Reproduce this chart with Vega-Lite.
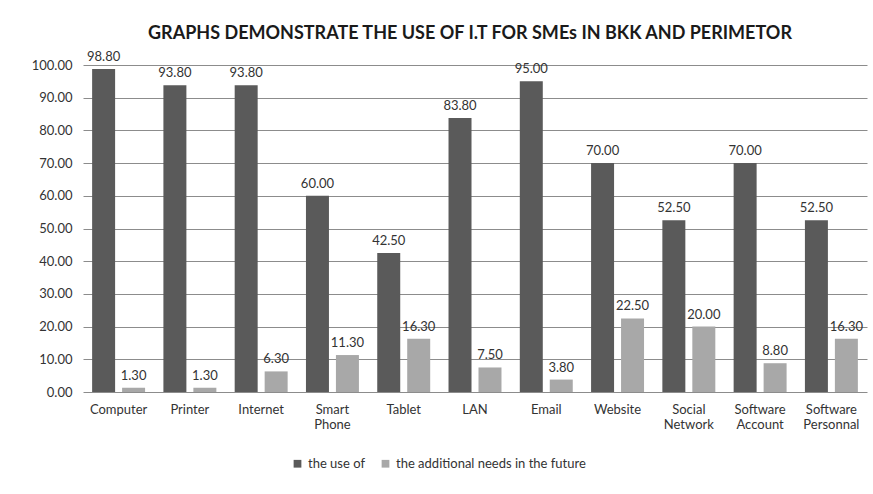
{
  "$schema": "https://vega.github.io/schema/vega-lite/v6.json",
  "autosize": "none",
  "width": 784,
  "height": 327,
  "padding": {"left": 83, "top": 65, "right": 6, "bottom": 102},
  "background": "white",
  "title": {
    "text": "GRAPHS DEMONSTRATE THE USE OF I.T FOR SMEs IN BKK AND PERIMETOR",
    "font": "Lato",
    "fontSize": 18,
    "fontWeight": "bold",
    "color": "#1a1a1a",
    "anchor": "middle",
    "offset": 8,
    "dx": -5
  },
  "data": {
    "values": [
      {"item": "Computer", "series": "the use of", "value": 98.8},
      {"item": "Computer", "series": "the additional  needs in the future", "value": 1.3},
      {"item": "Printer", "series": "the use of", "value": 93.8},
      {"item": "Printer", "series": "the additional  needs in the future", "value": 1.3},
      {"item": "Internet", "series": "the use of", "value": 93.8},
      {"item": "Internet", "series": "the additional  needs in the future", "value": 6.3},
      {"item": "Smart Phone", "series": "the use of", "value": 60.0},
      {"item": "Smart Phone", "series": "the additional  needs in the future", "value": 11.3},
      {"item": "Tablet", "series": "the use of", "value": 42.5},
      {"item": "Tablet", "series": "the additional  needs in the future", "value": 16.3},
      {"item": "LAN", "series": "the use of", "value": 83.8},
      {"item": "LAN", "series": "the additional  needs in the future", "value": 7.5},
      {"item": "Email", "series": "the use of", "value": 95.0},
      {"item": "Email", "series": "the additional  needs in the future", "value": 3.8},
      {"item": "Website", "series": "the use of", "value": 70.0},
      {"item": "Website", "series": "the additional  needs in the future", "value": 22.5},
      {"item": "Social Network", "series": "the use of", "value": 52.5},
      {"item": "Social Network", "series": "the additional  needs in the future", "value": 20.0},
      {"item": "Software Account", "series": "the use of", "value": 70.0},
      {"item": "Software Account", "series": "the additional  needs in the future", "value": 8.8},
      {"item": "Software Personnal", "series": "the use of", "value": 52.5},
      {"item": "Software Personnal", "series": "the additional  needs in the future", "value": 16.3}
    ]
  },
  "encoding": {
    "x": {
      "field": "item",
      "type": "nominal",
      "sort": null,
      "scale": {"paddingInner": 0.257, "paddingOuter": 0.128},
      "axis": {
        "title": null,
        "labelAngle": 0,
        "labelExpr": "split(datum.label, ' ')",
        "labelFont": "Lato",
        "labelFontSize": 13,
        "labelColor": "#333333",
        "labelPadding": 11,
        "labelLineHeight": 15,
        "ticks": false,
        "domain": false
      }
    },
    "xOffset": {
      "field": "series",
      "type": "nominal",
      "sort": null,
      "scale": {"paddingInner": 0.233, "paddingOuter": 0}
    },
    "y": {
      "field": "value",
      "type": "quantitative",
      "scale": {"domain": [0, 100], "nice": false},
      "axis": {
        "title": null,
        "values": [0, 10, 20, 30, 40, 50, 60, 70, 80, 90, 100],
        "format": ".2f",
        "labelFont": "Lato",
        "labelFontSize": 13,
        "labelColor": "#333333",
        "labelPadding": 11,
        "ticks": false,
        "domain": false,
        "grid": true,
        "gridColor": "#8c8c8c",
        "gridWidth": 1
      }
    }
  },
  "layer": [
    {
      "mark": {"type": "bar"},
      "encoding": {
        "color": {
          "field": "series",
          "type": "nominal",
          "sort": null,
          "scale": {"range": ["#5a5a5a", "#a8a8a8"]},
          "legend": {
            "title": null,
            "orient": "none",
            "legendX": 208,
            "legendY": 392,
            "direction": "horizontal",
            "symbolType": "square",
            "symbolSize": 60,
            "symbolStrokeWidth": 0,
            "labelFont": "Lato",
            "labelFontSize": 13,
            "labelColor": "#333333",
            "labelLimit": 0,
            "columnPadding": 14
          }
        }
      }
    },
    {
      "mark": {"type": "text", "dy": -12, "font": "Lato", "fontSize": 13, "color": "#333333"},
      "encoding": {
        "text": {"field": "value", "type": "quantitative", "format": ".2f"}
      }
    }
  ],
  "config": {
    "view": {"stroke": null}
  }
}
